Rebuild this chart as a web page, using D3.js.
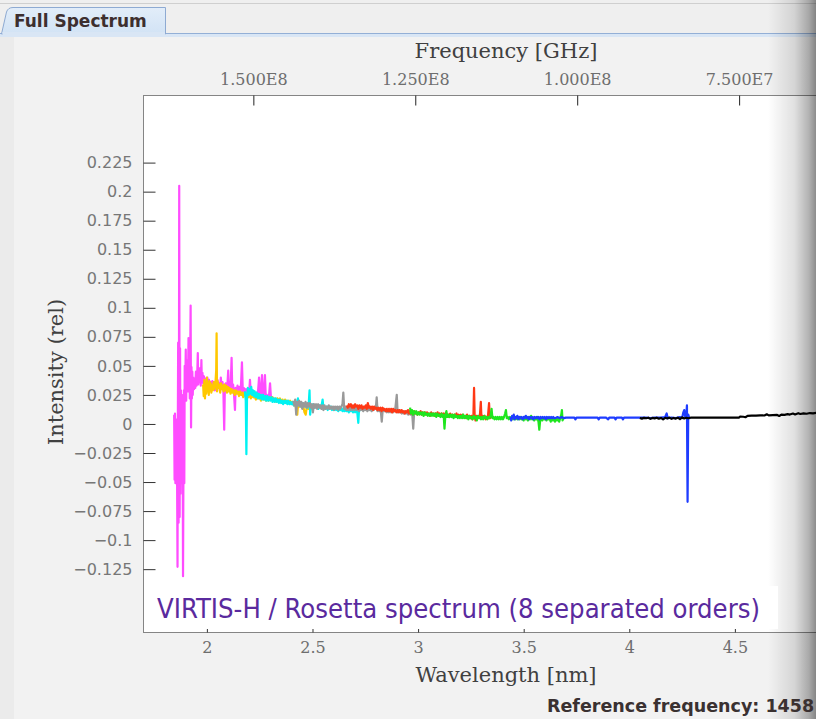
<!DOCTYPE html>
<html>
<head>
<meta charset="utf-8">
<script src="https://cdn.jsdelivr.net/npm/d3@7"></script>
<style>
html, body { margin: 0; padding: 0; background: #f2f2f2; overflow: hidden; }
svg { display: block; }
</style>
</head>
<body>
<svg id="chart" width="816" height="719"></svg>
<script>
// ---- data: wavelength [nm], intensity (rel) for each of the 8 orders ----
const order1 = [[1.845,0.008],[1.847,-0.048],[1.849,0.009],[1.851,-0.051],[1.853,0.004],[1.855,-0.045],[1.857,0.002],[1.859,-0.050],[1.861,-0.123],[1.862,-0.020],[1.864,0.070],[1.866,-0.085],[1.868,0.060],[1.869,0.205],[1.871,-0.080],[1.873,0.065],[1.875,-0.060],[1.877,0.029],[1.879,-0.051],[1.881,0.025],[1.883,-0.045],[1.885,0.020],[1.887,-0.131],[1.889,-0.040],[1.891,0.029],[1.893,-0.051],[1.895,0.050],[1.897,0.025],[1.900,0.064],[1.902,0.020],[1.904,0.048],[1.906,0.030],[1.908,0.055],[1.910,0.028],[1.913,0.074],[1.915,0.035],[1.917,0.050],[1.919,0.022],[1.921,0.060],[1.923,0.102],[1.925,-0.003],[1.927,0.049],[1.929,0.022],[1.931,0.045],[1.933,0.025],[1.936,0.040],[1.939,0.030],[1.942,0.038],[1.945,0.031],[1.948,0.045],[1.951,0.033],[1.954,0.040],[1.957,0.061],[1.959,0.034],[1.962,0.042],[1.965,0.036],[1.968,0.048],[1.971,0.033],[1.974,0.055],[1.976,0.036],[1.979,0.044],[1.982,0.035],[1.986,0.041],[1.990,0.034],[1.994,0.039],[1.998,0.032],[2.002,0.040],[2.006,0.034],[2.010,0.038],[2.014,0.031],[2.018,0.036],[2.022,0.030],[2.026,0.037],[2.030,0.031],[2.034,0.036],[2.038,0.029],[2.042,0.034],[2.046,0.030],[2.050,0.038],[2.054,0.031],[2.058,0.035],[2.062,0.028],[2.066,0.040],[2.070,0.031],[2.074,0.036],[2.078,0.029],[2.082,-0.005],[2.085,0.030],[2.089,0.035],[2.093,0.028],[2.097,0.033],[2.101,0.046],[2.104,0.030],[2.108,0.036],[2.112,0.029],[2.117,0.057],[2.120,0.030],[2.124,0.034],[2.128,0.027],[2.133,0.012],[2.136,0.031],[2.140,0.027],[2.145,0.033],[2.150,0.028],[2.155,0.032],[2.160,0.027],[2.166,0.053],[2.170,0.028],[2.175,0.031],[2.180,0.026],[2.185,0.030],[2.190,0.025],[2.195,0.029],[2.200,0.026],[2.204,0.038],[2.208,0.025],[2.213,0.029],[2.218,0.024],[2.223,0.028],[2.228,0.023],[2.233,0.027],[2.238,0.023],[2.243,0.030],[2.247,0.040],[2.251,0.024],[2.256,0.027],[2.261,0.042],[2.265,0.023],[2.270,0.026],[2.275,0.042],[2.279,0.022],[2.284,0.025],[2.289,0.021],[2.294,0.024],[2.299,0.035],[2.304,0.021],[2.310,0.023],[2.316,0.020]];

const order2 = [[1.982,0.034],[1.985,0.024],[1.988,0.038],[1.991,0.022],[1.994,0.036],[1.997,0.026],[2.000,0.040],[2.003,0.028],[2.006,0.034],[2.009,0.025],[2.012,0.037],[2.015,0.029],[2.018,0.035],[2.021,0.027],[2.024,0.033],[2.028,0.029],[2.032,0.036],[2.036,0.030],[2.040,0.034],[2.044,0.046],[2.046,0.078],[2.048,0.028],[2.051,0.037],[2.055,0.031],[2.059,0.034],[2.063,0.027],[2.067,0.035],[2.071,0.030],[2.075,0.033],[2.079,0.028],[2.083,0.034],[2.087,0.029],[2.091,0.033],[2.095,0.027],[2.099,0.032],[2.103,0.028],[2.107,0.031],[2.112,0.026],[2.117,0.030],[2.122,0.027],[2.127,0.029],[2.132,0.025],[2.137,0.029],[2.142,0.026],[2.147,0.028],[2.152,0.024],[2.157,0.028],[2.162,0.025],[2.167,0.027],[2.172,0.023],[2.178,0.027],[2.184,0.024],[2.190,0.026],[2.196,0.023],[2.202,0.025],[2.208,0.022],[2.214,0.025],[2.220,0.023],[2.226,0.024],[2.232,0.021],[2.238,0.024],[2.244,0.022],[2.250,0.023],[2.256,0.020],[2.262,0.023],[2.268,0.021],[2.274,0.023],[2.280,0.020],[2.286,0.023],[2.292,0.020],[2.298,0.023],[2.304,0.021],[2.310,0.023],[2.316,0.020],[2.322,0.022],[2.328,0.019],[2.334,0.022],[2.340,0.020],[2.346,0.022],[2.352,0.019],[2.358,0.021],[2.364,0.018],[2.370,0.021],[2.376,0.019],[2.382,0.020],[2.388,0.018],[2.394,0.020],[2.400,0.018],[2.406,0.019],[2.412,0.016],[2.418,0.018],[2.424,0.012],[2.428,0.008],[2.432,0.018],[2.438,0.015],[2.444,0.018],[2.450,0.014],[2.456,0.016],[2.462,0.010],[2.468,0.008],[2.474,0.016],[2.480,0.013],[2.486,0.015],[2.492,0.012]];

const order3 = [[2.180,0.028],[2.184,0.020],[2.187,-0.026],[2.190,0.022],[2.194,0.031],[2.198,0.025],[2.202,0.030],[2.206,0.026],[2.210,0.032],[2.214,0.025],[2.218,0.029],[2.222,0.024],[2.226,0.028],[2.231,0.023],[2.236,0.027],[2.241,0.022],[2.246,0.026],[2.251,0.022],[2.256,0.025],[2.261,0.021],[2.266,0.025],[2.271,0.021],[2.276,0.024],[2.281,0.020],[2.286,0.024],[2.291,0.020],[2.296,0.023],[2.301,0.020],[2.306,0.023],[2.311,0.019],[2.316,0.022],[2.321,0.019],[2.326,0.022],[2.331,0.019],[2.336,0.021],[2.341,0.018],[2.346,0.021],[2.351,0.018],[2.356,0.020],[2.361,0.017],[2.366,0.020],[2.371,0.018],[2.376,0.020],[2.381,0.017],[2.386,0.020],[2.391,0.017],[2.396,0.019],[2.401,0.017],[2.406,0.019],[2.411,0.016],[2.416,0.019],[2.421,0.016],[2.426,0.018],[2.431,0.022],[2.436,0.016],[2.441,0.018],[2.446,0.015],[2.451,0.018],[2.456,0.015],[2.461,0.017],[2.466,0.015],[2.471,0.017],[2.476,0.014],[2.482,0.017],[2.486,0.029],[2.489,0.008],[2.493,0.016],[2.498,0.014],[2.503,0.017],[2.508,0.014],[2.513,0.016],[2.518,0.014],[2.523,0.016],[2.528,0.013],[2.533,0.016],[2.538,0.014],[2.543,0.016],[2.548,0.021],[2.552,0.013],[2.557,0.015],[2.562,0.013],[2.567,0.015],[2.572,0.012],[2.577,0.015],[2.582,0.013],[2.587,0.015],[2.592,0.012],[2.597,0.014],[2.602,0.012],[2.607,0.014],[2.612,0.012],[2.617,0.014],[2.622,0.011],[2.627,0.014],[2.632,0.012],[2.637,0.014],[2.642,0.011],[2.647,0.013],[2.652,0.011],[2.657,0.013],[2.662,0.011],[2.667,0.013],[2.672,0.010],[2.677,0.013],[2.682,0.011],[2.687,0.013],[2.692,0.010],[2.697,0.012],[2.702,0.010],[2.707,0.012],[2.712,0.010],[2.717,0.001],[2.720,0.011],[2.725,0.012]];

const order4 = [[2.409,0.020],[2.414,0.016],[2.418,0.021],[2.423,0.008],[2.427,0.019],[2.432,0.016],[2.437,0.020],[2.442,0.015],[2.447,0.019],[2.452,0.013],[2.457,0.018],[2.462,0.015],[2.467,0.019],[2.472,0.014],[2.477,0.018],[2.482,0.015],[2.487,0.018],[2.492,0.014],[2.497,0.017],[2.502,0.010],[2.507,0.017],[2.512,0.014],[2.517,0.017],[2.522,0.013],[2.527,0.017],[2.532,0.014],[2.537,0.016],[2.542,0.013],[2.547,0.016],[2.552,0.012],[2.557,0.016],[2.562,0.013],[2.567,0.015],[2.572,0.013],[2.577,0.016],[2.582,0.013],[2.587,0.015],[2.592,0.013],[2.597,0.015],[2.602,0.012],[2.607,0.015],[2.612,0.013],[2.617,0.015],[2.622,0.012],[2.627,0.015],[2.632,0.013],[2.637,0.015],[2.642,0.017],[2.646,0.027],[2.650,0.013],[2.655,0.015],[2.660,0.012],[2.665,0.014],[2.670,0.012],[2.675,0.014],[2.680,0.012],[2.685,0.014],[2.690,0.012],[2.695,0.014],[2.700,0.012],[2.705,0.014],[2.710,0.012],[2.715,0.014],[2.720,0.011],[2.725,0.014],[2.730,0.012],[2.735,0.014],[2.740,0.011],[2.745,0.013],[2.750,0.012],[2.755,0.013],[2.760,0.011],[2.765,0.014],[2.770,0.012],[2.775,0.013],[2.780,0.011],[2.785,0.013],[2.790,0.012],[2.795,0.013],[2.800,0.014],[2.804,0.023],[2.808,0.011],[2.813,0.013],[2.818,0.011],[2.823,0.012],[2.828,0.002],[2.832,0.011],[2.837,0.013],[2.842,0.011],[2.847,0.012],[2.852,0.010],[2.857,0.012],[2.862,0.010],[2.867,0.012],[2.872,0.010],[2.877,0.012],[2.882,0.010],[2.887,0.012],[2.892,0.013],[2.899,0.025],[2.903,0.010],[2.908,0.012],[2.913,0.010],[2.918,0.011],[2.923,0.009],[2.928,0.011],[2.933,0.009],[2.938,0.011],[2.943,0.009],[2.948,0.011],[2.953,0.008],[2.958,0.010],[2.963,0.008],[2.968,0.010],[2.973,0.007],[2.977,-0.004],[2.981,0.009],[2.985,0.010]];

const order5 = [[2.662,0.016],[2.667,0.014],[2.672,0.017],[2.677,0.015],[2.682,0.017],[2.687,0.014],[2.692,0.016],[2.697,0.014],[2.702,0.017],[2.707,0.015],[2.712,0.016],[2.717,0.013],[2.722,0.016],[2.727,0.014],[2.732,0.016],[2.737,0.013],[2.742,0.015],[2.747,0.014],[2.752,0.016],[2.757,0.013],[2.762,0.018],[2.767,0.014],[2.772,0.015],[2.777,0.013],[2.782,0.015],[2.787,0.012],[2.792,0.015],[2.797,0.013],[2.802,0.014],[2.807,0.012],[2.812,0.014],[2.817,0.012],[2.822,0.014],[2.827,0.011],[2.832,0.014],[2.837,0.012],[2.842,0.013],[2.847,0.011],[2.852,0.013],[2.857,0.011],[2.862,0.013],[2.867,0.011],[2.872,0.013],[2.877,0.010],[2.882,0.013],[2.887,0.011],[2.892,0.012],[2.897,0.010],[2.902,0.012],[2.907,0.010],[2.912,0.012],[2.917,0.010],[2.922,0.012],[2.927,0.010],[2.932,0.011],[2.937,0.009],[2.942,0.011],[2.947,0.010],[2.952,0.012],[2.957,0.009],[2.962,0.011],[2.967,0.009],[2.972,0.011],[2.977,0.009],[2.982,0.011],[2.987,0.009],[2.992,0.010],[2.997,0.008],[3.002,0.010],[3.007,0.009],[3.012,0.011],[3.017,0.008],[3.022,0.010],[3.027,0.008],[3.032,0.010],[3.037,0.008],[3.042,0.010],[3.047,0.008],[3.052,0.009],[3.057,0.007],[3.062,0.010],[3.067,0.008],[3.072,0.009],[3.077,0.007],[3.082,0.009],[3.087,0.008],[3.092,0.010],[3.097,0.007],[3.102,0.009],[3.107,0.007],[3.112,0.009],[3.117,0.007],[3.122,0.009],[3.127,0.007],[3.132,0.009],[3.137,0.007],[3.142,0.008],[3.147,0.006],[3.152,0.009],[3.157,0.007],[3.162,0.008],[3.167,0.006],[3.172,0.008],[3.177,0.007],[3.182,0.009],[3.187,0.006],[3.192,0.008],[3.197,0.006],[3.202,0.008],[3.207,0.006],[3.212,0.008],[3.217,0.006],[3.222,0.007],[3.227,0.005],[3.232,0.008],[3.237,0.006],[3.242,0.007],[3.247,0.005],[3.252,0.007],[3.257,0.004],[3.262,0.008],[3.265,0.031],[3.268,0.006],[3.272,0.003],[3.277,0.007],[3.282,0.005],[3.287,0.007],[3.292,0.006],[3.297,0.019],[3.300,0.005],[3.305,0.007],[3.310,0.005],[3.315,0.007],[3.320,0.004],[3.325,0.006],[3.330,0.005],[3.336,0.018],[3.340,0.005],[3.345,0.006],[3.348,0.005]];

const order6 = [[2.962,0.014],[2.966,0.009],[2.971,0.012],[2.976,0.008],[2.981,0.011],[2.986,0.009],[2.991,0.011],[2.996,0.008],[3.001,0.010],[3.006,0.008],[3.011,0.010],[3.016,0.008],[3.021,0.010],[3.026,0.007],[3.031,0.010],[3.036,0.008],[3.041,0.009],[3.046,0.007],[3.051,0.009],[3.056,0.007],[3.061,0.009],[3.066,0.007],[3.071,0.009],[3.076,0.007],[3.081,0.009],[3.086,0.006],[3.091,0.009],[3.096,0.007],[3.101,0.008],[3.106,0.006],[3.111,0.009],[3.116,0.006],[3.121,0.008],[3.125,-0.004],[3.129,0.007],[3.134,0.011],[3.138,0.006],[3.143,0.008],[3.148,0.006],[3.153,0.008],[3.158,0.006],[3.163,0.008],[3.168,0.005],[3.173,0.008],[3.178,0.006],[3.183,0.007],[3.188,0.005],[3.193,0.007],[3.198,0.005],[3.203,0.007],[3.208,0.005],[3.213,0.008],[3.218,0.005],[3.223,0.007],[3.228,0.005],[3.233,0.007],[3.238,0.004],[3.243,0.007],[3.248,0.005],[3.253,0.006],[3.258,0.004],[3.263,0.007],[3.268,0.005],[3.273,0.006],[3.278,0.003],[3.283,0.007],[3.288,0.005],[3.293,0.006],[3.298,0.004],[3.303,0.006],[3.308,0.004],[3.313,0.007],[3.318,0.005],[3.323,0.006],[3.328,0.004],[3.333,0.006],[3.338,0.005],[3.343,0.007],[3.348,0.013],[3.352,0.005],[3.357,0.006],[3.362,0.004],[3.367,0.006],[3.372,0.004],[3.377,0.006],[3.382,0.004],[3.387,0.006],[3.392,0.004],[3.397,0.006],[3.402,0.004],[3.407,0.006],[3.412,0.009],[3.416,0.012],[3.420,0.005],[3.425,0.006],[3.430,0.004],[3.435,0.006],[3.440,0.004],[3.445,0.006],[3.450,0.004],[3.455,0.006],[3.460,0.004],[3.465,0.006],[3.470,0.004],[3.475,0.005],[3.480,0.004],[3.485,0.006],[3.490,0.004],[3.495,0.005],[3.500,0.003],[3.505,0.006],[3.510,0.004],[3.515,0.005],[3.520,0.003],[3.525,0.006],[3.530,0.004],[3.535,0.007],[3.540,0.004],[3.545,0.005],[3.550,0.003],[3.555,0.005],[3.560,0.004],[3.565,0.006],[3.570,0.002],[3.574,-0.005],[3.578,0.003],[3.583,0.005],[3.588,0.003],[3.593,0.005],[3.598,0.004],[3.603,0.005],[3.608,0.003],[3.613,0.005],[3.618,0.004],[3.623,0.005],[3.628,0.002],[3.633,0.005],[3.638,0.003],[3.643,0.005],[3.648,0.002],[3.653,0.005],[3.658,0.003],[3.663,0.005],[3.668,0.002],[3.673,0.005],[3.678,0.008],[3.681,0.012],[3.684,0.003],[3.688,0.005],[3.691,0.004]];

const order7 = [[3.437,0.006],[3.441,0.003],[3.445,0.007],[3.449,0.005],[3.453,0.008],[3.457,0.004],[3.461,0.006],[3.465,0.005],[3.470,0.007],[3.475,0.004],[3.480,0.006],[3.485,0.005],[3.490,0.006],[3.495,0.004],[3.500,0.006],[3.505,0.005],[3.510,0.007],[3.515,0.005],[3.520,0.006],[3.525,0.004],[3.530,0.006],[3.535,0.005],[3.540,0.006],[3.545,0.004],[3.550,0.006],[3.555,0.005],[3.560,0.006],[3.565,0.005],[3.570,0.006],[3.575,0.004],[3.580,0.006],[3.585,0.005],[3.590,0.006],[3.595,0.005],[3.600,0.006],[3.605,0.004],[3.610,0.006],[3.615,0.005],[3.620,0.006],[3.625,0.005],[3.630,0.006],[3.635,0.005],[3.640,0.006],[3.645,0.005],[3.650,0.005],[3.660,0.006],[3.670,0.005],[3.680,0.006],[3.690,0.005],[3.700,0.0055],[3.720,0.0054],[3.740,0.0054],[3.745,0.004],[3.750,0.0054],[3.780,0.0054],[3.810,0.0054],[3.850,0.0054],[3.855,0.004],[3.860,0.0054],[3.890,0.0054],[3.900,0.004],[3.905,0.0054],[3.930,0.0054],[3.935,0.004],[3.940,0.0054],[3.965,0.0054],[3.970,0.004],[3.975,0.0054],[4.000,0.0054],[4.040,0.0054],[4.080,0.0054],[4.100,0.005],[4.120,0.0054],[4.150,0.0054],[4.170,0.006],[4.177,0.009],[4.182,0.005],[4.200,0.0054],[4.220,0.005],[4.240,0.006],[4.250,0.005],[4.256,0.010],[4.260,0.012],[4.265,0.006],[4.270,0.008],[4.273,0.016],[4.276,-0.067],[4.279,0.008],[4.284,0.005],[4.288,0.006]];

const order8 = [[4.050,0.0052],[4.060,0.0046],[4.070,0.0053],[4.080,0.0049],[4.090,0.0054],[4.100,0.0044],[4.110,0.0052],[4.120,0.0048],[4.130,0.0054],[4.140,0.0045],[4.150,0.0052],[4.160,0.0040],[4.170,0.0053],[4.180,0.0047],[4.190,0.0055],[4.200,0.0044],[4.210,0.0052],[4.220,0.0046],[4.230,0.0054],[4.240,0.0042],[4.250,0.0056],[4.260,0.0047],[4.270,0.0053],[4.280,0.0049],[4.290,0.0054],[4.320,0.0054],[4.360,0.0054],[4.400,0.0054],[4.440,0.0054],[4.480,0.0054],[4.520,0.0055],[4.525,0.0064],[4.540,0.0062],[4.550,0.0058],[4.560,0.0070],[4.580,0.0072],[4.600,0.0071],[4.620,0.0074],[4.640,0.0073],[4.651,0.0083],[4.660,0.0074],[4.680,0.0076],[4.700,0.0078],[4.710,0.0069],[4.720,0.0080],[4.735,0.0078],[4.750,0.0085],[4.760,0.0081],[4.775,0.0090],[4.785,0.0082],[4.800,0.0093],[4.810,0.0086],[4.825,0.0091],[4.840,0.0088],[4.855,0.0094],[4.870,0.0091],[4.885,0.0095],[4.900,0.0092],[4.920,0.0096],[4.940,0.0093],[4.960,0.0097]];

const orders = [order1, order2, order3, order4, order5, order6, order7, order8];
const orderColors = ["#ff4cff", "#ffc800", "#00f2f2", "#999999", "#ff3815", "#1ee61e", "#1e3cff", "#000000"];

const wlDomain = [1.6975, 5.135];
const intDomain = [-0.1791, 0.2832];
const wlTicks = [2, 2.5, 3, 3.5, 4, 4.5];
const intTicks = [-0.125, -0.1, -0.075, -0.05, -0.025, 0, 0.025, 0.05, 0.075, 0.1, 0.125, 0.15, 0.175, 0.2, 0.225];
const freqTicks = [1.5e8, 1.25e8, 1.0e8, 7.5e7];
// frequency axis is linear; these wavelengths sit under its end ticks
const freqAnchorWl = [2.22, 4.52];
const freqAnchorVal = [1.5e8, 7.5e7];

const titleText = "VIRTIS-H / Rosetta spectrum (8 separated orders)";
const refText = "Reference frequency: 1458";

// ---- layout ----
const svg = d3.select("#chart");
const W = 816, H = 719;
const plot = {left: 143, top: 95, right: 869, bottom: 632};

const x = d3.scaleLinear().domain(wlDomain).range([plot.left, plot.right]);
const y = d3.scaleLinear().domain(intDomain).range([plot.bottom, plot.top]);
const xf = d3.scaleLinear().domain(freqAnchorVal).range(freqAnchorWl.map(x));

const defs = svg.append("defs");
defs.append("clipPath").attr("id", "plotClip")
    .append("rect")
    .attr("x", plot.left).attr("y", plot.top)
    .attr("width", plot.right - plot.left).attr("height", plot.bottom - plot.top);

let shade = defs.append("linearGradient").attr("id", "edgeShade")
    .attr("x1", 0).attr("x2", 1).attr("y1", 0).attr("y2", 0);
shade.append("stop").attr("offset", "0%").attr("stop-color", "#000").attr("stop-opacity", 0);
shade.append("stop").attr("offset", "55%").attr("stop-color", "#000").attr("stop-opacity", 0.12);
shade.append("stop").attr("offset", "85%").attr("stop-color", "#000").attr("stop-opacity", 0.3);
shade.append("stop").attr("offset", "100%").attr("stop-color", "#000").attr("stop-opacity", 0.45);

let tabFill = defs.append("linearGradient").attr("id", "tabFill")
    .attr("x1", 0).attr("x2", 0).attr("y1", 0).attr("y2", 1);
tabFill.append("stop").attr("offset", "0%").attr("stop-color", "#e2edf9");
tabFill.append("stop").attr("offset", "100%").attr("stop-color", "#d2e3f5");

// panel background
svg.append("rect").attr("width", W).attr("height", H).attr("fill", "#f2f2f2");
svg.append("rect").attr("x", 0).attr("y", 37).attr("width", 14).attr("height", H - 37).attr("fill", "#ebebeb");
svg.append("rect").attr("x", 0).attr("y", 0).attr("width", W).attr("height", 33).attr("fill", "#efefef");
svg.append("line").attr("x1", 0).attr("x2", W).attr("y1", 3.5).attr("y2", 3.5)
    .attr("stroke", "#cfcfcf");
svg.append("rect").attr("x", 0).attr("y", 33).attr("width", W).attr("height", 4).attr("fill", "#d9e6f5");
svg.append("line").attr("x1", 0).attr("x2", W).attr("y1", 33.5).attr("y2", 33.5)
    .attr("stroke", "#93afd6");

// tab
svg.append("path")
    .attr("d", "M1.5,34 L6.5,12 Q8,7.5 13,7.5 L165.5,7.5 L165.5,34 Z")
    .attr("fill", "url(#tabFill)")
    .attr("stroke", "#8eaad2");
svg.append("rect").attr("x", 2.5).attr("y", 32).attr("width", 162.5).attr("height", 4).attr("fill", "#d9e6f5");
svg.append("text")
    .attr("x", 14).attr("y", 27)
    .style("font-family", "'DejaVu Sans', sans-serif")
    .style("font-weight", "bold")
    .style("font-size", "17px")
    .style("fill", "#3d2f2f")
    .text("Full Spectrum");

// plot area
svg.append("rect")
    .attr("x", plot.left + 0.5).attr("y", plot.top + 0.5)
    .attr("width", plot.right - plot.left).attr("height", plot.bottom - plot.top)
    .attr("fill", "#fff").attr("stroke", "#858585");

// right edge shadow
svg.append("rect").attr("x", 768).attr("y", 0).attr("width", W - 768).attr("height", H)
    .attr("fill", "url(#edgeShade)");

// spectra
let line = d3.line().x(d => x(d[0])).y(d => y(d[1]));
svg.append("g").attr("clip-path", "url(#plotClip)")
    .selectAll("path")
    .data(orders)
    .enter()
    .append("path")
    .attr("d", d => line(d))
    .attr("fill", "none")
    .attr("stroke", (d, i) => orderColors[i])
    .attr("stroke-width", 2.2)
    .attr("stroke-linejoin", "round");

// axes
let yAxis = d3.axisLeft(y).tickValues(intTicks).tickSize(-12).tickPadding(11)
    .tickFormat(d3.format("~g"));
let gy = svg.append("g").attr("transform", "translate(" + (plot.left + 0.5) + ",0)").call(yAxis);
gy.select(".domain").remove();
gy.selectAll("line").attr("stroke", "#333");
gy.selectAll("text")
    .style("font-family", "'DejaVu Sans', sans-serif")
    .style("font-size", "16px")
    .style("fill", "#777");

let xAxis = d3.axisBottom(x).tickValues(wlTicks).tickSize(-5).tickPadding(9)
    .tickFormat(d3.format("~g"));
let gx = svg.append("g").attr("transform", "translate(0," + (plot.bottom + 0.5) + ")").call(xAxis);
gx.select(".domain").remove();
gx.selectAll("line").attr("stroke", "#333");
gx.selectAll("text")
    .style("font-family", "'DejaVu Serif', serif")
    .style("font-size", "16px")
    .style("fill", "#6e6e6e");

let fAxis = d3.axisTop(xf).tickValues(freqTicks).tickSize(-10).tickPadding(11)
    .tickFormat(d => d.toExponential(3).toUpperCase().replace("E+", "E"));
let gf = svg.append("g").attr("transform", "translate(0," + (plot.top + 0.5) + ")").call(fAxis);
gf.select(".domain").remove();
gf.selectAll("line").attr("stroke", "#222");
gf.selectAll("text")
    .style("font-family", "'DejaVu Serif', serif")
    .style("font-size", "16px")
    .style("fill", "#6e6e6e");

// axis titles
let midX = (plot.left + plot.right) / 2;
svg.append("text")
    .attr("x", midX).attr("y", 58)
    .attr("text-anchor", "middle")
    .style("font-family", "'DejaVu Serif', serif")
    .style("font-size", "21px")
    .style("fill", "#404040")
    .text("Frequency [GHz]");
svg.append("text")
    .attr("x", midX).attr("y", 682)
    .attr("text-anchor", "middle")
    .style("font-family", "'DejaVu Serif', serif")
    .style("font-size", "21px")
    .style("fill", "#404040")
    .text("Wavelength [nm]");
svg.append("text")
    .attr("transform", "translate(63,372) rotate(-90)")
    .attr("text-anchor", "middle")
    .style("font-family", "'DejaVu Serif', serif")
    .style("font-size", "21px")
    .style("fill", "#404040")
    .text("Intensity (rel)");

// caption box
svg.append("rect")
    .attr("x", 146).attr("y", 586).attr("width", 632).attr("height", 43)
    .attr("fill", "#fff");
svg.append("text")
    .attr("x", 157).attr("y", 618)
    .attr("textLength", 603).attr("lengthAdjust", "spacingAndGlyphs")
    .style("font-family", "'DejaVu Sans Condensed', 'DejaVu Sans', sans-serif")
    .style("font-size", "26px")
    .style("fill", "#5a2a9e")
    .text(titleText);

svg.append("text")
    .attr("x", 547).attr("y", 712)
    .style("font-family", "'DejaVu Sans', sans-serif")
    .style("font-weight", "bold")
    .style("font-size", "17.5px")
    .style("fill", "#3a3131")
    .text(refText);
</script>
</body>
</html>
